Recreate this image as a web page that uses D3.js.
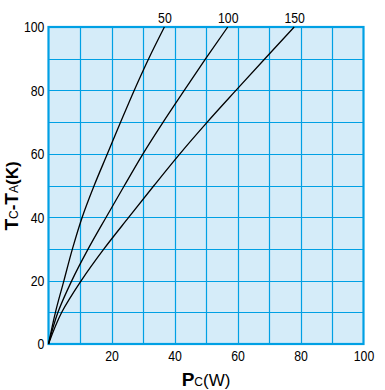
<!DOCTYPE html>
<html><head><meta charset="utf-8">
<script src="https://cdn.jsdelivr.net/npm/d3@7"></script>
<style>body{margin:0;background:#fff}svg{display:block}</style>
</head><body>
<svg id="c" width="385" height="390"></svg>
<script>
// Data: [Pc (W), Tc-TA (K)]
const curveLabels = ["50", "100", "150"];
const curve50  = [[0,0],[2.2,10],[4.9,20],[7.6,30],[10.7,40],[14.5,50],[18.7,60],[22.9,70],[27.2,80],[31.8,90],[36.8,100]];
const curve100 = [[0,0],[3.0,10],[7.4,20],[12.6,30],[18.3,40],[24.1,50],[30.0,60],[36.4,70],[43.1,80],[49.9,90],[56.9,100]];
const curve150 = [[0,0],[4.2,10],[10.4,20],[17.6,30],[25.5,40],[33.5,50],[41.7,60],[50.4,70],[59.5,80],[68.7,90],[78.0,100]];
const xTicks = [20, 40, 60, 80, 100];
const yTicks = [0, 20, 40, 60, 80, 100];
const gridStep = [10,20,30,40,50,60,70,80,90];

const svg = d3.select("#c");
const L = 48.5, R = 363.5, T = 27, B = 344;
const x = d3.scaleLinear().domain([0,100]).range([L,R]);
const y = d3.scaleLinear().domain([0,100]).range([B,T]);
const blue = "#00a0e4";
const fnt = "'Liberation Sans',Arial,sans-serif";
const SX = 0.82;

svg.append("rect").attr("x",L).attr("y",T).attr("width",R-L).attr("height",B-T).attr("fill","#d5ecf9");

const g = svg.append("g");
g.selectAll(".vx").data(gridStep).join("line")
  .attr("x1",d=>Math.round(x(d))+0.5).attr("x2",d=>Math.round(x(d))+0.5)
  .attr("y1",T).attr("y2",B).attr("stroke",blue).attr("stroke-width",1.2);
g.selectAll(".hy").data(gridStep).join("line")
  .attr("y1",d=>Math.round(y(d))+0.5).attr("y2",d=>Math.round(y(d))+0.5)
  .attr("x1",L).attr("x2",R).attr("stroke",blue).attr("stroke-width",1.2);
svg.append("rect").attr("x",L).attr("y",T).attr("width",R-L).attr("height",B-T)
  .attr("fill","none").attr("stroke",blue).attr("stroke-width",2.2);

const line = d3.line().x(d=>x(d[0])).y(d=>y(d[1])).curve(d3.curveMonotoneY);
const curves = [curve50, curve100, curve150];
svg.selectAll(".curve").data(curves).join("path")
  .attr("d", line).attr("fill","none").attr("stroke","#000").attr("stroke-width",1.3);

// curve labels
svg.selectAll(".cl").data(curves).join("text")
  .attr("transform", d=>`translate(${x(d[d.length-1][0])+0.5},23) scale(${SX},1)`)
  .attr("text-anchor","middle").attr("font-family",fnt).attr("font-size",15)
  .text((d,i)=>curveLabels[i]);

// axes
const xAxis = d3.axisBottom(x).tickValues(xTicks).tickSize(0).tickPadding(6);
const xa = svg.append("g").attr("transform",`translate(0,${B})`).call(xAxis);
xa.select(".domain").remove();
xa.selectAll("text").attr("font-family",fnt).attr("font-size",15).attr("fill","#000")
  .attr("transform",`scale(${SX},1)`);

const yAxis = d3.axisLeft(y).tickValues(yTicks).tickSize(0).tickPadding(5);
const ya = svg.append("g").attr("transform",`translate(${L},0)`).call(yAxis);
ya.select(".domain").remove();
ya.selectAll("text").attr("font-family",fnt).attr("font-size",15).attr("fill","#000")
  .attr("transform",`scale(${SX},1)`);

// axis titles
const xt = svg.append("text").attr("x",206).attr("y",386).attr("text-anchor","middle")
  .attr("font-family",fnt).attr("fill","#000");
xt.append("tspan").attr("font-size",19).attr("font-weight","bold").text("P");
xt.append("tspan").attr("font-size",12).text("C");
xt.append("tspan").attr("font-size",17).text("(W)");

const yt = svg.append("text").attr("transform","translate(18,196) rotate(-90)").attr("text-anchor","middle")
  .attr("font-family",fnt).attr("fill","#000");
yt.append("tspan").attr("font-size",19).attr("font-weight","bold").text("T");
yt.append("tspan").attr("font-size",12).text("C");
yt.append("tspan").attr("font-size",17).attr("font-weight","bold").text("-");
yt.append("tspan").attr("font-size",19).attr("font-weight","bold").text("T");
yt.append("tspan").attr("font-size",12).text("A");
yt.append("tspan").attr("font-size",17).attr("font-weight","bold").text("(K)");
</script>
</body></html>
